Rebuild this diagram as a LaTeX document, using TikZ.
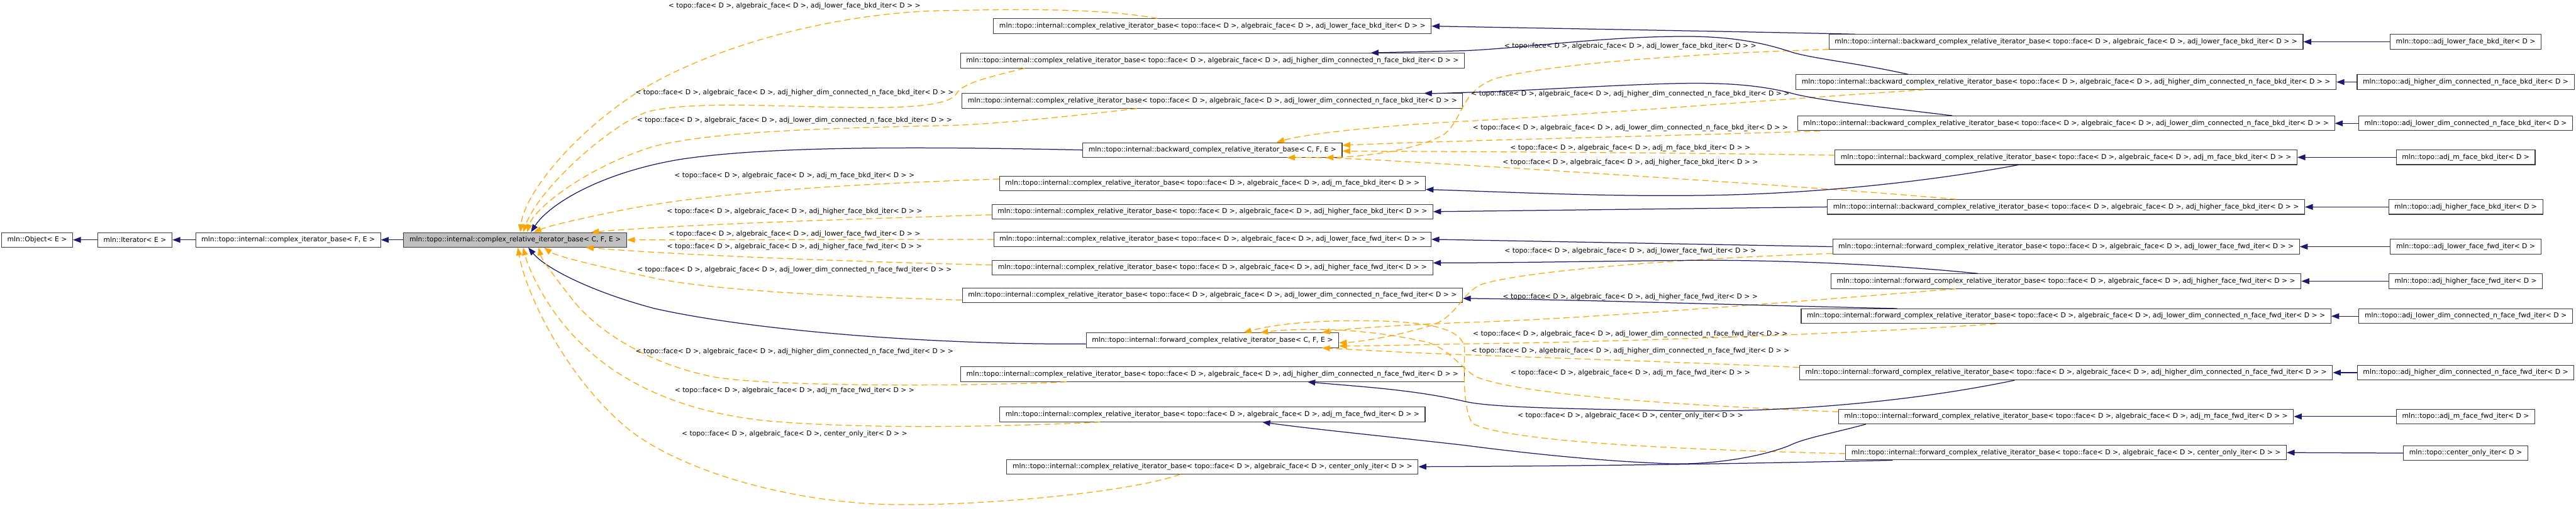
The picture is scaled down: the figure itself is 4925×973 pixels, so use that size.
\documentclass[tikz,border=0pt]{standalone}
\usepackage{fontspec}
\setmainfont{DejaVu Sans}
\usepackage{tikz}
\usetikzlibrary{arrows.meta}
\definecolor{DoxNavy}{HTML}{191970}
\definecolor{DoxOrange}{HTML}{FFA500}
\definecolor{DoxGray}{HTML}{BFBFBF}
\definecolor{DoxEdge}{HTML}{3A3A3A}
\newcommand\instargs[1]{< topo::face< D >, algebraic\_face< D >, #1< D > >}
\newcommand\cribof[1]{mln::topo::internal::complex\_relative\_iterator\_base\instargs{#1}}
\newcommand\bcribof[1]{mln::topo::internal::backward\_complex\_relative\_iterator\_base\instargs{#1}}
\newcommand\fcribof[1]{mln::topo::internal::forward\_complex\_relative\_iterator\_base\instargs{#1}}

\begin{document}
\begin{tikzpicture}[
  x=0.5pt,y=-0.5pt,
  font=\fontsize{6.5pt}{7.8pt}\selectfont,
  box/.style={draw=DoxEdge,line width=0.65pt,fill=white,minimum height=14pt,inner xsep=5.5pt,inner ysep=1pt},
  focus/.style={box,fill=DoxGray},
  inherit/.style={-{Triangle[length=7.5pt,width=5.5pt]},draw=DoxNavy,line width=0.75pt},
  instance/.style={-{Triangle[length=7.5pt,width=5.5pt]},draw=DoxOrange,line width=0.75pt,dash pattern=on 6pt off 3.5pt},
  note/.style={inner sep=0pt}
]
\useasboundingbox[fill=white] (0,0) rectangle (4925,973);
\node[box] (object) at (71,459) {mln::Object< E >};
\node[box] (iterator) at (258,459) {mln::Iterator< E >};
\node[box] (cib) at (551,459) {mln::topo::internal::complex\_iterator\_base< F, E >};
\node[focus] (crib) at (985,459) {mln::topo::internal::complex\_relative\_iterator\_base< C, F, E >};

\node[box] (crib-lfb) at (2318,50) {\cribof{adj\_lower\_face\_bkd\_iter}};
\node[box] (crib-hdb) at (2318,116) {\cribof{adj\_higher\_dim\_connected\_n\_face\_bkd\_iter}};
\node[box] (crib-ldb) at (2318,193) {\cribof{adj\_lower\_dim\_connected\_n\_face\_bkd\_iter}};
\node[box] (bcrib) at (2318,287) {mln::topo::internal::backward\_complex\_relative\_iterator\_base< C, F, E >};
\node[box] (crib-mfb) at (2318,351) {\cribof{adj\_m\_face\_bkd\_iter}};
\node[box] (crib-hfb) at (2318,405) {\cribof{adj\_higher\_face\_bkd\_iter}};
\node[box] (crib-lff) at (2318,458) {\cribof{adj\_lower\_face\_fwd\_iter}};
\node[box] (crib-hff) at (2318,512) {\cribof{adj\_higher\_face\_fwd\_iter}};
\node[box] (crib-ldf) at (2318,565) {\cribof{adj\_lower\_dim\_connected\_n\_face\_fwd\_iter}};
\node[box] (fcrib) at (2318,651) {mln::topo::internal::forward\_complex\_relative\_iterator\_base< C, F, E >};
\node[box] (crib-hdf) at (2318,716) {\cribof{adj\_higher\_dim\_connected\_n\_face\_fwd\_iter}};
\node[box] (crib-mff) at (2318,793) {\cribof{adj\_m\_face\_fwd\_iter}};
\node[box] (crib-co) at (2318,893) {\cribof{center\_only\_iter}};

\node[box] (bwd-lfb) at (3950,80) {\bcribof{adj\_lower\_face\_bkd\_iter}};
\node[box] (bwd-hdb) at (3950,157) {\bcribof{adj\_higher\_dim\_connected\_n\_face\_bkd\_iter}};
\node[box] (bwd-ldb) at (3950,236) {\bcribof{adj\_lower\_dim\_connected\_n\_face\_bkd\_iter}};
\node[box] (bwd-mfb) at (3950,301) {\bcribof{adj\_m\_face\_bkd\_iter}};
\node[box] (bwd-hfb) at (3950,396) {\bcribof{adj\_higher\_face\_bkd\_iter}};
\node[box] (fwd-lff) at (3950,472) {\fcribof{adj\_lower\_face\_fwd\_iter}};
\node[box] (fwd-hff) at (3950,538) {\fcribof{adj\_higher\_face\_fwd\_iter}};
\node[box] (fwd-ldf) at (3950,605) {\fcribof{adj\_lower\_dim\_connected\_n\_face\_fwd\_iter}};
\node[box] (fwd-hdf) at (3950,713) {\fcribof{adj\_higher\_dim\_connected\_n\_face\_fwd\_iter}};
\node[box] (fwd-mff) at (3950,797) {\fcribof{adj\_m\_face\_fwd\_iter}};
\node[box] (fwd-co) at (3950,866) {\fcribof{center\_only\_iter}};

\node[box] (adj-lfb) at (4714,80) {mln::topo::adj\_lower\_face\_bkd\_iter< D >};
\node[box] (adj-hdb) at (4714,157) {mln::topo::adj\_higher\_dim\_connected\_n\_face\_bkd\_iter< D >};
\node[box] (adj-ldb) at (4714,236) {mln::topo::adj\_lower\_dim\_connected\_n\_face\_bkd\_iter< D >};
\node[box] (adj-mfb) at (4714,301) {mln::topo::adj\_m\_face\_bkd\_iter< D >};
\node[box] (adj-hfb) at (4714,396) {mln::topo::adj\_higher\_face\_bkd\_iter< D >};
\node[box] (adj-lff) at (4714,472) {mln::topo::adj\_lower\_face\_fwd\_iter< D >};
\node[box] (adj-hff) at (4714,538) {mln::topo::adj\_higher\_face\_fwd\_iter< D >};
\node[box] (adj-ldf) at (4714,605) {mln::topo::adj\_lower\_dim\_connected\_n\_face\_fwd\_iter< D >};
\node[box] (adj-hdf) at (4714,713) {mln::topo::adj\_higher\_dim\_connected\_n\_face\_fwd\_iter< D >};
\node[box] (adj-mff) at (4714,797) {mln::topo::adj\_m\_face\_fwd\_iter< D >};
\node[box] (adj-co) at (4714,867) {mln::topo::center\_only\_iter< D >};

\draw[inherit] (iterator) -- (object);
\draw[inherit] (cib) -- (iterator);
\draw[inherit] (crib) -- (cib);
\draw[inherit] (bcrib.west) .. controls (1700,279) and (1450,282) .. (1300,305) .. controls (1150,330) and (1050,390) .. ([xshift=15pt]crib.north);
\draw[inherit] ([yshift=-3.5pt]fcrib.west) .. controls (1800,660) and (1450,635) .. (1250,590) .. controls (1120,555) and (1040,510) .. ([xshift=12.5pt]crib.south);

\draw[instance] ([xshift=-52.5pt]crib-lfb.north) .. controls (2100,15) and (1950,18) .. (1816,20) .. controls (1600,22) and (1350,90) .. (1209,183) .. controls (1080,270) and (1000,380) .. ([xshift=5pt]crib.north);
\draw[instance] ([xshift=-179.75pt]crib-hdb.south) .. controls (1880,150) and (1840,160) .. (1828,180) .. controls (1815,200) and (1750,206) .. (1656,206) .. controls (1500,205) and (1330,192) .. (1241,213) .. controls (1170,235) and (1030,360) .. ([xshift=7.5pt]crib.north);
\draw[instance] ([xshift=-72.25pt]crib-ldb.south) .. controls (2050,222) and (1900,238) .. (1816,240) .. controls (1600,245) and (1369,250) .. (1250,280) .. controls (1120,320) and (1020,400) .. ([xshift=11.5pt]crib.north);
\draw[instance] ([yshift=4.25pt]crib-mfb.west) .. controls (1700,350) and (1400,362) .. (1200,400) .. controls (1110,418) and (1050,432) .. ([xshift=17.5pt]crib.north);
\draw[instance] ([yshift=-3pt]crib-hfb.west) .. controls (1600,420) and (1300,430) .. ([xshift=72.5pt]crib.north);
\draw[instance] (crib-lff.west) -- (crib.east);
\draw[instance] ([yshift=2.5pt]crib-hff.west) .. controls (1600,500) and (1300,488) .. ([xshift=67.5pt]crib.south);
\draw[instance] ([yshift=-4.5pt]crib-ldf.west) .. controls (1600,568) and (1350,555) .. (1241,530) .. controls (1120,505) and (1060,488) .. ([xshift=27.5pt]crib.south);
\draw[instance] ([xshift=-139.25pt]crib-hdf.south) .. controls (1900,738) and (1500,742) .. (1369,722) .. controls (1250,700) and (1150,640) .. (1100,580) .. controls (1060,530) and (1035,495) .. ([xshift=22.5pt]crib.south);
\draw[instance] ([xshift=-107.25pt]crib-mff.south) .. controls (1950,815) and (1700,822) .. (1500,808) .. controls (1300,795) and (1180,725) .. (1114,660) .. controls (1050,600) and (1012,520) .. ([xshift=7.5pt]crib.south);
\draw[instance] ([xshift=-30.75pt]crib-co.south) .. controls (2150,945) and (1850,970) .. (1688,965) .. controls (1500,958) and (1300,900) .. (1200,820) .. controls (1080,720) and (1005,560) .. ([xshift=2.5pt]crib.south);

\node[note] (l-lfb) at (1519,12) {\instargs{adj\_lower\_face\_bkd\_iter}};
\node[note] (l-hdb) at (1519,177) {\instargs{adj\_higher\_dim\_connected\_n\_face\_bkd\_iter}};
\node[note] (l-ldb) at (1519,231) {\instargs{adj\_lower\_dim\_connected\_n\_face\_bkd\_iter}};
\node[note] (l-mfb) at (1519,336) {\instargs{adj\_m\_face\_bkd\_iter}};
\node[note] (l-hfb) at (1519,405) {\instargs{adj\_higher\_face\_bkd\_iter}};
\node[note] (l-lff) at (1519,448) {\instargs{adj\_lower\_face\_fwd\_iter}};
\node[note] (l-hff) at (1519,472) {\instargs{adj\_higher\_face\_fwd\_iter}};
\node[note] (l-ldf) at (1519,517) {\instargs{adj\_lower\_dim\_connected\_n\_face\_fwd\_iter}};
\node[note] (l-hdf) at (1519,673) {\instargs{adj\_higher\_dim\_connected\_n\_face\_fwd\_iter}};
\node[note] (l-mff) at (1519,748) {\instargs{adj\_m\_face\_fwd\_iter}};
\node[note] (l-co) at (1519,831) {\instargs{center\_only\_iter}};

\draw[instance] (bwd-lfb.south west) .. controls (3300,100) and (2980,118) .. (2860,150) .. controls (2790,175) and (2800,225) .. (2760,258) .. controls (2700,290) and (2600,300) .. ([xshift=108.25pt]bcrib.south);
\draw[instance] ([xshift=-135.25pt]bwd-hdb.south) .. controls (3400,190) and (3000,222) .. (2800,232) .. controls (2650,240) and (2500,255) .. ([xshift=61.25pt]bcrib.north);
\draw[instance] ([xshift=22pt]bwd-ldb.south west) .. controls (3200,260) and (2800,268) .. ([yshift=4.5pt]bcrib.east);
\draw[instance] ([yshift=2pt]bwd-mfb.west) .. controls (3200,292) and (2800,290) .. ([yshift=-1pt]bcrib.east);
\draw[instance] ([xshift=-105pt]bwd-hfb.north) .. controls (3500,360) and (3100,335) .. (2900,322) .. controls (2700,310) and (2550,300) .. ([xshift=71.25pt]bcrib.south);
\draw[instance] ([yshift=-6.5pt]fwd-lff.west) .. controls (3200,495) and (2900,520) .. (2830,545) .. controls (2790,565) and (2785,610) .. (2729,625) .. controls (2660,645) and (2600,654) .. ([yshift=-2.5pt]fcrib.east);
\draw[instance] ([xshift=-105.25pt]fwd-hff.south) .. controls (3400,580) and (3000,612) .. (2800,617) .. controls (2680,622) and (2580,628) .. ([xshift=104.75pt]fcrib.north);
\draw[instance] ([xshift=-67pt]fwd-ldf.south) .. controls (3500,642) and (3000,656) .. (2800,658) .. controls (2700,660) and (2620,662) .. ([yshift=-5.5pt]fcrib.east);
\draw[instance] ([yshift=5pt]fwd-hdf.west) .. controls (3200,692) and (2900,683) .. (2729,676) .. controls (2640,672) and (2570,668) .. ([xshift=104.75pt]fcrib.south);
\draw[instance] ([yshift=4.5pt]fwd-mff.west) .. controls (3200,775) and (2900,755) .. (2820,720) .. controls (2790,700) and (2770,668) .. (2729,655) .. controls (2600,625) and (2480,628) .. ([xshift=45.75pt]fcrib.north);
\draw[instance] ([yshift=-1pt]fwd-co.west) .. controls (3200,860) and (2880,845) .. (2815,810) .. controls (2795,780) and (2800,700) .. (2800,670) .. controls (2800,620) and (2700,612) .. (2560,614) .. controls (2470,616) and (2420,625) .. ([xshift=29.75pt]fcrib.north);

\node[note] (r-lfb) at (3117,89) {\instargs{adj\_lower\_face\_bkd\_iter}};
\node[note] (r-hdb) at (3117,180) {\instargs{adj\_higher\_dim\_connected\_n\_face\_bkd\_iter}};
\node[note] (r-ldb) at (3117,245) {\instargs{adj\_lower\_dim\_connected\_n\_face\_bkd\_iter}};
\node[note] (r-mfb) at (3117,283) {\instargs{adj\_m\_face\_bkd\_iter}};
\node[note] (r-hfb) at (3117,311) {\instargs{adj\_higher\_face\_bkd\_iter}};
\node[note] (r-lff) at (3117,481) {\instargs{adj\_lower\_face\_fwd\_iter}};
\node[note] (r-hff) at (3117,568) {\instargs{adj\_higher\_face\_fwd\_iter}};
\node[note] (r-ldf) at (3117,639) {\instargs{adj\_lower\_dim\_connected\_n\_face\_fwd\_iter}};
\node[note] (r-hdf) at (3117,672) {\instargs{adj\_higher\_dim\_connected\_n\_face\_fwd\_iter}};
\node[note] (r-mff) at (3117,714) {\instargs{adj\_m\_face\_fwd\_iter}};
\node[note] (r-co) at (3117,796) {\instargs{center\_only\_iter}};

\draw[inherit] ([xshift=-201.75pt]bwd-lfb.north) .. controls (3300,60) and (2950,54) .. (crib-lfb.east);
\draw[inherit] ([xshift=-150.75pt]bwd-hdb.north) .. controls (3550,120) and (3460,112) .. (3420,98) .. controls (3350,75) and (3280,68) .. (3193,70) .. controls (3050,72) and (2900,93) .. (2800,97) .. controls (2720,99) and (2660,100) .. ([xshift=151.25pt]crib-hdb.north);
\draw[inherit] ([xshift=-108.75pt]bwd-ldb.north) .. controls (3600,205) and (3470,192) .. (3420,177) .. controls (3350,160) and (3280,158) .. (3193,160) .. controls (3050,164) and (2900,175) .. (2800,177) .. controls (2770,178) and (2745,179) .. ([xshift=202.25pt]crib-ldb.north);
\draw[inherit] ([xshift=-45.75pt]bwd-mfb.south) .. controls (3700,345) and (3500,368) .. (3300,373) .. controls (3100,378) and (2900,368) .. ([yshift=-5.75pt]crib-mfb.east);
\draw[inherit] (bwd-hfb.west) -- (crib-hfb.east);
\draw[inherit] (fwd-lff.west) -- (crib-lff.east);
\draw[inherit] ([xshift=-84.25pt]fwd-hff.north) .. controls (3600,505) and (3400,498) .. (3256,498) .. controls (3100,499) and (2900,503) .. ([yshift=4.5pt]crib-hff.east);
\draw[inherit] ([xshift=-161.5pt]fwd-ldf.north) .. controls (3300,583) and (3000,573) .. ([yshift=-3pt]crib-ldf.east);
\draw[inherit] ([xshift=-49.25pt]fwd-hdf.south) .. controls (3650,770) and (3400,790) .. (3200,786) .. controls (3000,782) and (2850,780) .. (2800,768) .. controls (2700,745) and (2600,740) .. ([xshift=90.75pt]crib-hdf.south);
\draw[inherit] ([xshift=-191.25pt]fwd-mff.south) .. controls (3500,830) and (3450,838) .. (3420,853) .. controls (3350,880) and (3250,890) .. (3186,887) .. controls (3050,882) and (2900,865) .. (2800,852) .. controls (2650,835) and (2500,820) .. ([xshift=47.75pt]crib-mff.south);
\draw[inherit] ([xshift=-165.75pt]fwd-co.south) .. controls (3300,888) and (3000,892) .. (crib-co.east);

\draw[inherit] (adj-lfb.west) -- (bwd-lfb.east);
\draw[inherit] (adj-hdb.west) -- (bwd-hdb.east);
\draw[inherit] (adj-ldb.west) -- (bwd-ldb.east);
\draw[inherit] (adj-mfb.west) -- (bwd-mfb.east);
\draw[inherit] (adj-hfb.west) -- (bwd-hfb.east);
\draw[inherit] (adj-lff.west) -- (fwd-lff.east);
\draw[inherit] (adj-hff.west) -- (fwd-hff.east);
\draw[inherit] (adj-ldf.west) -- (fwd-ldf.east);
\draw[inherit] (adj-hdf.west) -- (fwd-hdf.east);
\draw[inherit] (adj-mff.west) -- (fwd-mff.east);
\draw[inherit] (adj-co.west) -- (fwd-co.east);
\end{tikzpicture}
\end{document}
